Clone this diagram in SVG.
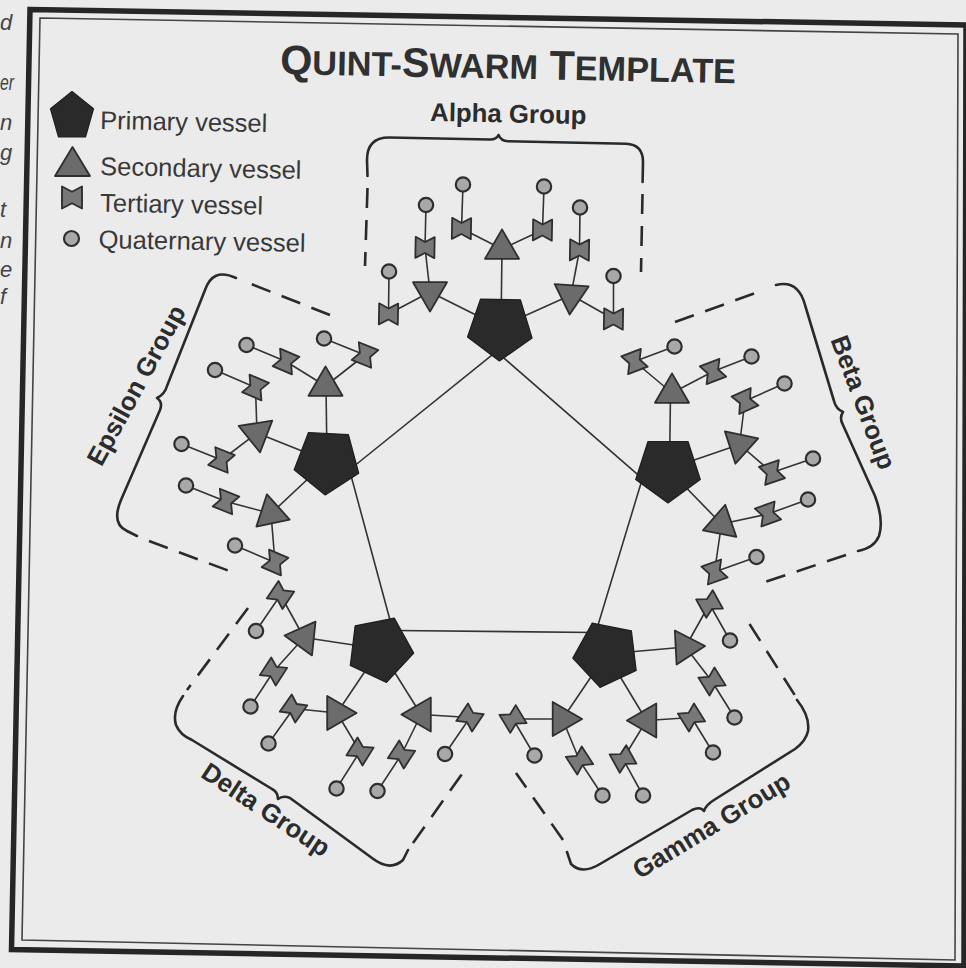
<svg xmlns="http://www.w3.org/2000/svg" width="966" height="968" viewBox="0 0 966 968">
<style>
.pri{fill:#2a2a2a;stroke:#1e1e1e;stroke-width:1.2;stroke-linejoin:round}
.sec{fill:#6b6b6b;stroke:#2e2e2e;stroke-width:1.8;stroke-linejoin:round}
.ter{fill:#787878;stroke:#2e2e2e;stroke-width:1.8;stroke-linejoin:round}
.qua{fill:#a8a8a8;stroke:#2e2e2e;stroke-width:2.2}
.ln line{stroke:#333;stroke-width:1.6}
.br{stroke:#2a2a2a;stroke-width:2.6;fill:none;stroke-linecap:round;stroke-linejoin:round}
.dash{stroke-dasharray:20 12;stroke-linecap:butt}
.lbl{font-family:"Liberation Sans",Arial,sans-serif;font-weight:bold;font-size:25.8px;fill:#2c2c2c}
.leg{font-family:"Liberation Sans",Arial,sans-serif;font-size:25.5px;fill:#383838}
.ttl{font-family:"Liberation Sans",Arial,sans-serif;font-weight:bold;fill:#303030}
.frag{font-family:"Liberation Sans",Arial,sans-serif;font-style:italic;font-size:22px;fill:#444}
</style>
<defs>
<polygon id="pent" points="0,34 32.3,10.5 20,-27.5 -20,-27.5 -32.3,10.5"/>
<polygon id="tri" points="0,-19.6 17,9.8 -17,9.8"/>
<polygon id="bow" points="-9.5,-10.5 0,-5.5 9.5,-10.5 9.5,10.5 0,5.5 -9.5,10.5"/>
</defs>
<rect width="966" height="968" fill="#ebebeb"/>

<!-- page fragments -->
<g class="frag">
<text x="0" y="30">d</text>
<text x="0" y="90" textLength="14" lengthAdjust="spacingAndGlyphs">er</text>
<text x="0" y="130">n</text>
<text x="0" y="160">g</text>
<text x="0" y="217">t</text>
<text x="0" y="248">n</text>
<text x="0" y="277">e</text>
<text x="0" y="304">f</text>
</g>

<!-- frame -->
<g id="frame" fill="none">
<polygon points="30,9.5 966,25 964,966 11.5,949.5" stroke="#262626" stroke-width="5.5"/>
<polygon points="40,18 958,34 955,960 22,940" stroke="#444" stroke-width="1.6"/>
</g>

<!-- title -->
<text id="title" class="ttl" x="280" y="74" transform="rotate(1.15 280 74)"><tspan font-size="41.3">Q</tspan><tspan font-size="34.3">UINT-</tspan><tspan font-size="41.3">S</tspan><tspan font-size="34.3">WARM</tspan><tspan font-size="41.3"> T</tspan><tspan font-size="34.3">EMPLATE</tspan></text>

<!-- legend -->
<g id="legend">
<g id="legend-primary">
<polygon class="pri" points="72,91.5 93.5,108.8 85.5,137 58.5,137 50.5,108.8"/>
<text class="leg" x="100" y="129" transform="rotate(1.1 100 129)">Primary vessel</text>
</g>
<g id="legend-secondary">
<polygon class="sec" points="72.5,147 90,176 55,176"/>
<text class="leg" x="100" y="175" transform="rotate(1.1 100 175)">Secondary vessel</text>
</g>
<g id="legend-tertiary">
<use href="#bow" class="ter" transform="translate(72,197.5) scale(1.05)"/>
<text class="leg" x="100" y="211.5" transform="rotate(1.1 100 211.5)">Tertiary vessel</text>
</g>
<g id="legend-quaternary">
<circle class="qua" cx="71.5" cy="238.5" r="7.5"/>
<text class="leg" x="98.5" y="248" transform="rotate(1.1 98.5 248)">Quaternary vessel</text>
</g>
</g>

<!-- group brackets -->
<g id="brackets" class="br">
<path d="M367.5,176 L367,160 Q367,137.5 389,137.5 L489,139.5 Q496,140 498.5,135 Q501,141 508,141.2 L626,143.8 Q643,144.5 643,162 L642.6,182"/>
<path class="dash" d="M367.5,188 L365,266"/>
<path class="dash" d="M642.5,194 L641,272"/>
<path d="M236,278 C219,270 210,276 205,290 L167,386 Q165,394 157,398 Q163,402 160,410 L121,500 Q111,524 127,531 L137,536"/>
<path class="dash" d="M330,315 L246,282"/>
<path class="dash" d="M149,541 L232,572"/>
<path d="M776,285 C792,281 801,290 805,305 L834,401 Q836,409 843,412 Q839,418 843,425 L875,496 Q884,520 879,536 Q874,548 858,551"/>
<path class="dash" d="M675,322 L764,290"/>
<path class="dash" d="M846,555 L762,583"/>
<path d="M797,700 Q810,716 808,731 Q806,741 795,749 L714,800 Q706,805 704,811 Q700,806 692,810 L600,864 Q582,875 571,864 L567,852"/>
<path class="dash" d="M749.5,624 L796,697"/>
<path class="dash" d="M563,840 L516,773"/>
<path d="M183,696 Q172,712 176,725 Q180,735 192,740 L272,789 Q278,792 278,799 Q283,795 290,798 L372,858 Q390,872 403,860 L408,850"/>
<path class="dash" d="M248,608 L187,690"/>
<path class="dash" d="M413,843 L467,767"/>
</g>

<!-- group labels -->
<g id="labels" class="lbl">
<text x="430" y="121" transform="rotate(1.1 430 121)">Alpha Group</text>
<text x="144" y="389.5" text-anchor="middle" transform="rotate(-61.5 144 389.5)">Epsilon Group</text>
<text x="855" y="405.5" text-anchor="middle" transform="rotate(69.4 855 405.5)">Beta Group</text>
<text x="716" y="833" text-anchor="middle" transform="rotate(-31.3 716 833)">Gamma Group</text>
<text x="261" y="817" text-anchor="middle" transform="rotate(33.5 261 817)">Delta Group</text>
</g>

<!-- connectors -->
<g id="connectors" class="ln">
<line x1="500" y1="348.6" x2="335" y2="481.5"/>
<line x1="500" y1="354.7" x2="655" y2="489.6"/>
<line x1="645" y1="470" x2="593.5" y2="640"/>
<line x1="595" y1="632.5" x2="395" y2="630.5"/>
<line x1="392.7" y1="630" x2="349.5" y2="470"/>

<line x1="501" y1="327" x2="502" y2="249"/>
<line x1="500" y1="327" x2="430" y2="292"/>
<line x1="500" y1="327" x2="571" y2="295"/>
<line x1="669.5" y1="469" x2="670.5" y2="393"/>
<line x1="668" y1="469" x2="739.5" y2="444.5"/>
<line x1="668" y1="469" x2="721.5" y2="524"/>
<line x1="606.5" y1="654" x2="685.5" y2="647"/>
<line x1="606.5" y1="654" x2="562.5" y2="719"/>
<line x1="606.5" y1="654" x2="646.5" y2="720.5"/>
<line x1="380" y1="649" x2="304" y2="637.5"/>
<line x1="380" y1="649" x2="337" y2="713"/>
<line x1="380" y1="649" x2="421" y2="714.5"/>
<line x1="327" y1="461" x2="326" y2="386"/>
<line x1="327" y1="461" x2="257" y2="433"/>
<line x1="327" y1="461" x2="271" y2="513.5"/>

<line x1="430" y1="292" x2="425" y2="247.5"/>
<line x1="430" y1="292" x2="388.5" y2="314"/>
<line x1="502" y1="249" x2="461.5" y2="228.5"/>
<line x1="502" y1="249" x2="542.5" y2="230"/>
<line x1="571" y1="295" x2="579.5" y2="250"/>
<line x1="571" y1="295" x2="613.5" y2="319"/>
<line x1="672" y1="393" x2="634.5" y2="361.5"/>
<line x1="672" y1="393" x2="713" y2="371.5"/>
<line x1="739.5" y1="444.5" x2="745" y2="401"/>
<line x1="739.5" y1="444.5" x2="772" y2="472.5"/>
<line x1="721.5" y1="524" x2="768" y2="514"/>
<line x1="721.5" y1="524" x2="714.5" y2="572"/>
<line x1="685.5" y1="647" x2="709.5" y2="604"/>
<line x1="685.5" y1="647" x2="712" y2="681.5"/>
<line x1="562.5" y1="719" x2="513" y2="719"/>
<line x1="562.5" y1="719" x2="579.5" y2="760.5"/>
<line x1="646.5" y1="720.5" x2="691.5" y2="717.5"/>
<line x1="646.5" y1="720.5" x2="623" y2="759"/>
<line x1="304" y1="637.5" x2="280.5" y2="595"/>
<line x1="304" y1="637.5" x2="273.5" y2="671.5"/>
<line x1="337" y1="713" x2="293.5" y2="708.5"/>
<line x1="337" y1="713" x2="360" y2="751.5"/>
<line x1="421" y1="714.5" x2="470" y2="717.5"/>
<line x1="421" y1="714.5" x2="401.5" y2="754.5"/>
<line x1="325.5" y1="386" x2="286" y2="361.5"/>
<line x1="325.5" y1="386" x2="365" y2="355"/>
<line x1="257" y1="433" x2="255.5" y2="387.5"/>
<line x1="257" y1="433" x2="221.5" y2="460"/>
<line x1="271" y1="513.5" x2="226" y2="501.5"/>
<line x1="271" y1="513.5" x2="275" y2="562.5"/>

<line x1="425" y1="247.5" x2="426" y2="205"/>
<line x1="461.5" y1="228.5" x2="463" y2="184.5"/>
<line x1="542.5" y1="230" x2="544" y2="186.5"/>
<line x1="579.5" y1="250" x2="580" y2="207.5"/>
<line x1="388.5" y1="314" x2="389" y2="271.5"/>
<line x1="613.5" y1="319" x2="613.5" y2="276"/>
<line x1="634.5" y1="361.5" x2="674.5" y2="346.5"/>
<line x1="713" y1="371.5" x2="751.5" y2="356.5"/>
<line x1="745" y1="401" x2="784.5" y2="383.5"/>
<line x1="772" y1="472.5" x2="813" y2="458.5"/>
<line x1="768" y1="514" x2="808" y2="499.5"/>
<line x1="714.5" y1="572" x2="756.5" y2="557"/>
<line x1="709.5" y1="604" x2="730" y2="640.5"/>
<line x1="712" y1="681.5" x2="734.5" y2="717.5"/>
<line x1="513" y1="719" x2="534.5" y2="755.5"/>
<line x1="579.5" y1="760.5" x2="602.5" y2="795.5"/>
<line x1="691.5" y1="717.5" x2="713" y2="752.5"/>
<line x1="623" y1="759" x2="643" y2="795.5"/>
<line x1="280.5" y1="595" x2="256" y2="631"/>
<line x1="273.5" y1="671.5" x2="250.5" y2="706.5"/>
<line x1="293.5" y1="708.5" x2="268.5" y2="743.5"/>
<line x1="360" y1="751.5" x2="336.5" y2="788.5"/>
<line x1="470" y1="717.5" x2="445" y2="754"/>
<line x1="401.5" y1="754.5" x2="377.5" y2="791"/>
<line x1="286" y1="361.5" x2="246.5" y2="345"/>
<line x1="365" y1="355" x2="324" y2="338.5"/>
<line x1="255.5" y1="387.5" x2="215" y2="370"/>
<line x1="221.5" y1="460" x2="181.5" y2="444"/>
<line x1="226" y1="501.5" x2="186" y2="485.5"/>
<line x1="275" y1="562.5" x2="235" y2="545.5"/>
</g>

<!-- primary vessels -->
<g id="alpha-primary"><use href="#pent" class="pri" transform="translate(500,327) rotate(1)"/></g>
<g id="beta-primary"><use href="#pent" class="pri" transform="translate(668,469)"/></g>
<g id="gamma-primary"><use href="#pent" class="pri" transform="translate(606.5,654) rotate(11)"/></g>
<g id="delta-primary"><use href="#pent" class="pri" transform="translate(380,649) rotate(-11)"/></g>
<g id="epsilon-primary"><use href="#pent" class="pri" transform="translate(327,461) rotate(3)"/></g>

<!-- secondary vessels -->
<g id="alpha-s1"><use href="#tri" class="sec" transform="translate(502,249)"/></g>
<g id="alpha-s2"><use href="#tri" class="sec" transform="translate(430,292) rotate(180)"/></g>
<g id="alpha-s3"><use href="#tri" class="sec" transform="translate(571,295) rotate(184)"/></g>
<g id="beta-s1"><use href="#tri" class="sec" transform="translate(672,393)"/></g>
<g id="beta-s2"><use href="#tri" class="sec" transform="translate(739.5,444.5) rotate(192)"/></g>
<g id="beta-s3"><use href="#tri" class="sec" transform="translate(721.5,524) rotate(11)"/></g>
<g id="gamma-s1"><use href="#tri" class="sec" transform="translate(685.5,647) rotate(87)"/></g>
<g id="gamma-s2"><use href="#tri" class="sec" transform="translate(562.5,719) rotate(90)"/></g>
<g id="gamma-s3"><use href="#tri" class="sec" transform="translate(646.5,720.5) rotate(-90)"/></g>
<g id="delta-s1"><use href="#tri" class="sec" transform="translate(304,637.5) rotate(-84)"/></g>
<g id="delta-s2"><use href="#tri" class="sec" transform="translate(337,713) rotate(90)"/></g>
<g id="delta-s3"><use href="#tri" class="sec" transform="translate(421,714.5) rotate(-90)"/></g>
<g id="epsilon-s1"><use href="#tri" class="sec" transform="translate(325.5,386)"/></g>
<g id="epsilon-s2"><use href="#tri" class="sec" transform="translate(257,433) rotate(171)"/></g>
<g id="epsilon-s3"><use href="#tri" class="sec" transform="translate(271,513.5) rotate(-12)"/></g>

<!-- tertiary vessels -->
<g id="alpha-t1"><use href="#bow" class="ter" transform="translate(425,247.5) rotate(1)"/></g>
<g id="alpha-t2"><use href="#bow" class="ter" transform="translate(461.5,228.5) rotate(1)"/></g>
<g id="alpha-t3"><use href="#bow" class="ter" transform="translate(542.5,230) rotate(1)"/></g>
<g id="alpha-t4"><use href="#bow" class="ter" transform="translate(579.5,250) rotate(1)"/></g>
<g id="alpha-t5"><use href="#bow" class="ter" transform="translate(388.5,314) rotate(1)"/></g>
<g id="alpha-t6"><use href="#bow" class="ter" transform="translate(613.5,319) rotate(1)"/></g>
<g id="beta-t1"><use href="#bow" class="ter" transform="translate(634.5,361.5) rotate(69)"/></g>
<g id="beta-t2"><use href="#bow" class="ter" transform="translate(713,371.5) rotate(69)"/></g>
<g id="beta-t3"><use href="#bow" class="ter" transform="translate(745,401) rotate(66)"/></g>
<g id="beta-t4"><use href="#bow" class="ter" transform="translate(772,472.5) rotate(71)"/></g>
<g id="beta-t5"><use href="#bow" class="ter" transform="translate(768,514) rotate(70)"/></g>
<g id="beta-t6"><use href="#bow" class="ter" transform="translate(714.5,572) rotate(70)"/></g>
<g id="gamma-t1"><use href="#bow" class="ter" transform="translate(709.5,604) rotate(151)"/></g>
<g id="gamma-t2"><use href="#bow" class="ter" transform="translate(712,681.5) rotate(148)"/></g>
<g id="gamma-t3"><use href="#bow" class="ter" transform="translate(513,719) rotate(149)"/></g>
<g id="gamma-t4"><use href="#bow" class="ter" transform="translate(579.5,760.5) rotate(147)"/></g>
<g id="gamma-t5"><use href="#bow" class="ter" transform="translate(691.5,717.5) rotate(148)"/></g>
<g id="gamma-t6"><use href="#bow" class="ter" transform="translate(623,759) rotate(151)"/></g>
<g id="delta-t1"><use href="#bow" class="ter" transform="translate(280.5,595) rotate(214)"/></g>
<g id="delta-t2"><use href="#bow" class="ter" transform="translate(273.5,671.5) rotate(213)"/></g>
<g id="delta-t3"><use href="#bow" class="ter" transform="translate(293.5,708.5) rotate(215)"/></g>
<g id="delta-t4"><use href="#bow" class="ter" transform="translate(360,751.5) rotate(212)"/></g>
<g id="delta-t5"><use href="#bow" class="ter" transform="translate(470,717.5) rotate(214)"/></g>
<g id="delta-t6"><use href="#bow" class="ter" transform="translate(401.5,754.5) rotate(213)"/></g>
<g id="epsilon-t1"><use href="#bow" class="ter" transform="translate(286,361.5) rotate(-67)"/></g>
<g id="epsilon-t2"><use href="#bow" class="ter" transform="translate(365,355) rotate(-68)"/></g>
<g id="epsilon-t3"><use href="#bow" class="ter" transform="translate(255.5,387.5) rotate(-67)"/></g>
<g id="epsilon-t4"><use href="#bow" class="ter" transform="translate(221.5,460) rotate(-68)"/></g>
<g id="epsilon-t5"><use href="#bow" class="ter" transform="translate(226,501.5) rotate(-68)"/></g>
<g id="epsilon-t6"><use href="#bow" class="ter" transform="translate(275,562.5) rotate(-67)"/></g>

<!-- quaternary vessels -->
<g id="alpha-q1"><circle class="qua" cx="426" cy="205" r="7.2"/></g>
<g id="alpha-q2"><circle class="qua" cx="463" cy="184.5" r="7.2"/></g>
<g id="alpha-q3"><circle class="qua" cx="544" cy="186.5" r="7.2"/></g>
<g id="alpha-q4"><circle class="qua" cx="580" cy="207.5" r="7.2"/></g>
<g id="alpha-q5"><circle class="qua" cx="389" cy="271.5" r="7.2"/></g>
<g id="alpha-q6"><circle class="qua" cx="613.5" cy="276" r="7.2"/></g>
<g id="beta-q1"><circle class="qua" cx="674.5" cy="346.5" r="7.2"/></g>
<g id="beta-q2"><circle class="qua" cx="751.5" cy="356.5" r="7.2"/></g>
<g id="beta-q3"><circle class="qua" cx="784.5" cy="383.5" r="7.2"/></g>
<g id="beta-q4"><circle class="qua" cx="813" cy="458.5" r="7.2"/></g>
<g id="beta-q5"><circle class="qua" cx="808" cy="499.5" r="7.2"/></g>
<g id="beta-q6"><circle class="qua" cx="756.5" cy="557" r="7.2"/></g>
<g id="gamma-q1"><circle class="qua" cx="730" cy="640.5" r="7.2"/></g>
<g id="gamma-q2"><circle class="qua" cx="734.5" cy="717.5" r="7.2"/></g>
<g id="gamma-q3"><circle class="qua" cx="534.5" cy="755.5" r="7.2"/></g>
<g id="gamma-q4"><circle class="qua" cx="602.5" cy="795.5" r="7.2"/></g>
<g id="gamma-q5"><circle class="qua" cx="713" cy="752.5" r="7.2"/></g>
<g id="gamma-q6"><circle class="qua" cx="643" cy="795.5" r="7.2"/></g>
<g id="delta-q1"><circle class="qua" cx="256" cy="631" r="7.2"/></g>
<g id="delta-q2"><circle class="qua" cx="250.5" cy="706.5" r="7.2"/></g>
<g id="delta-q3"><circle class="qua" cx="268.5" cy="743.5" r="7.2"/></g>
<g id="delta-q4"><circle class="qua" cx="336.5" cy="788.5" r="7.2"/></g>
<g id="delta-q5"><circle class="qua" cx="445" cy="754" r="7.2"/></g>
<g id="delta-q6"><circle class="qua" cx="377.5" cy="791" r="7.2"/></g>
<g id="epsilon-q1"><circle class="qua" cx="246.5" cy="345" r="7.2"/></g>
<g id="epsilon-q2"><circle class="qua" cx="324" cy="338.5" r="7.2"/></g>
<g id="epsilon-q3"><circle class="qua" cx="215" cy="370" r="7.2"/></g>
<g id="epsilon-q4"><circle class="qua" cx="181.5" cy="444" r="7.2"/></g>
<g id="epsilon-q5"><circle class="qua" cx="186" cy="485.5" r="7.2"/></g>
<g id="epsilon-q6"><circle class="qua" cx="235" cy="545.5" r="7.2"/></g>
</svg>
